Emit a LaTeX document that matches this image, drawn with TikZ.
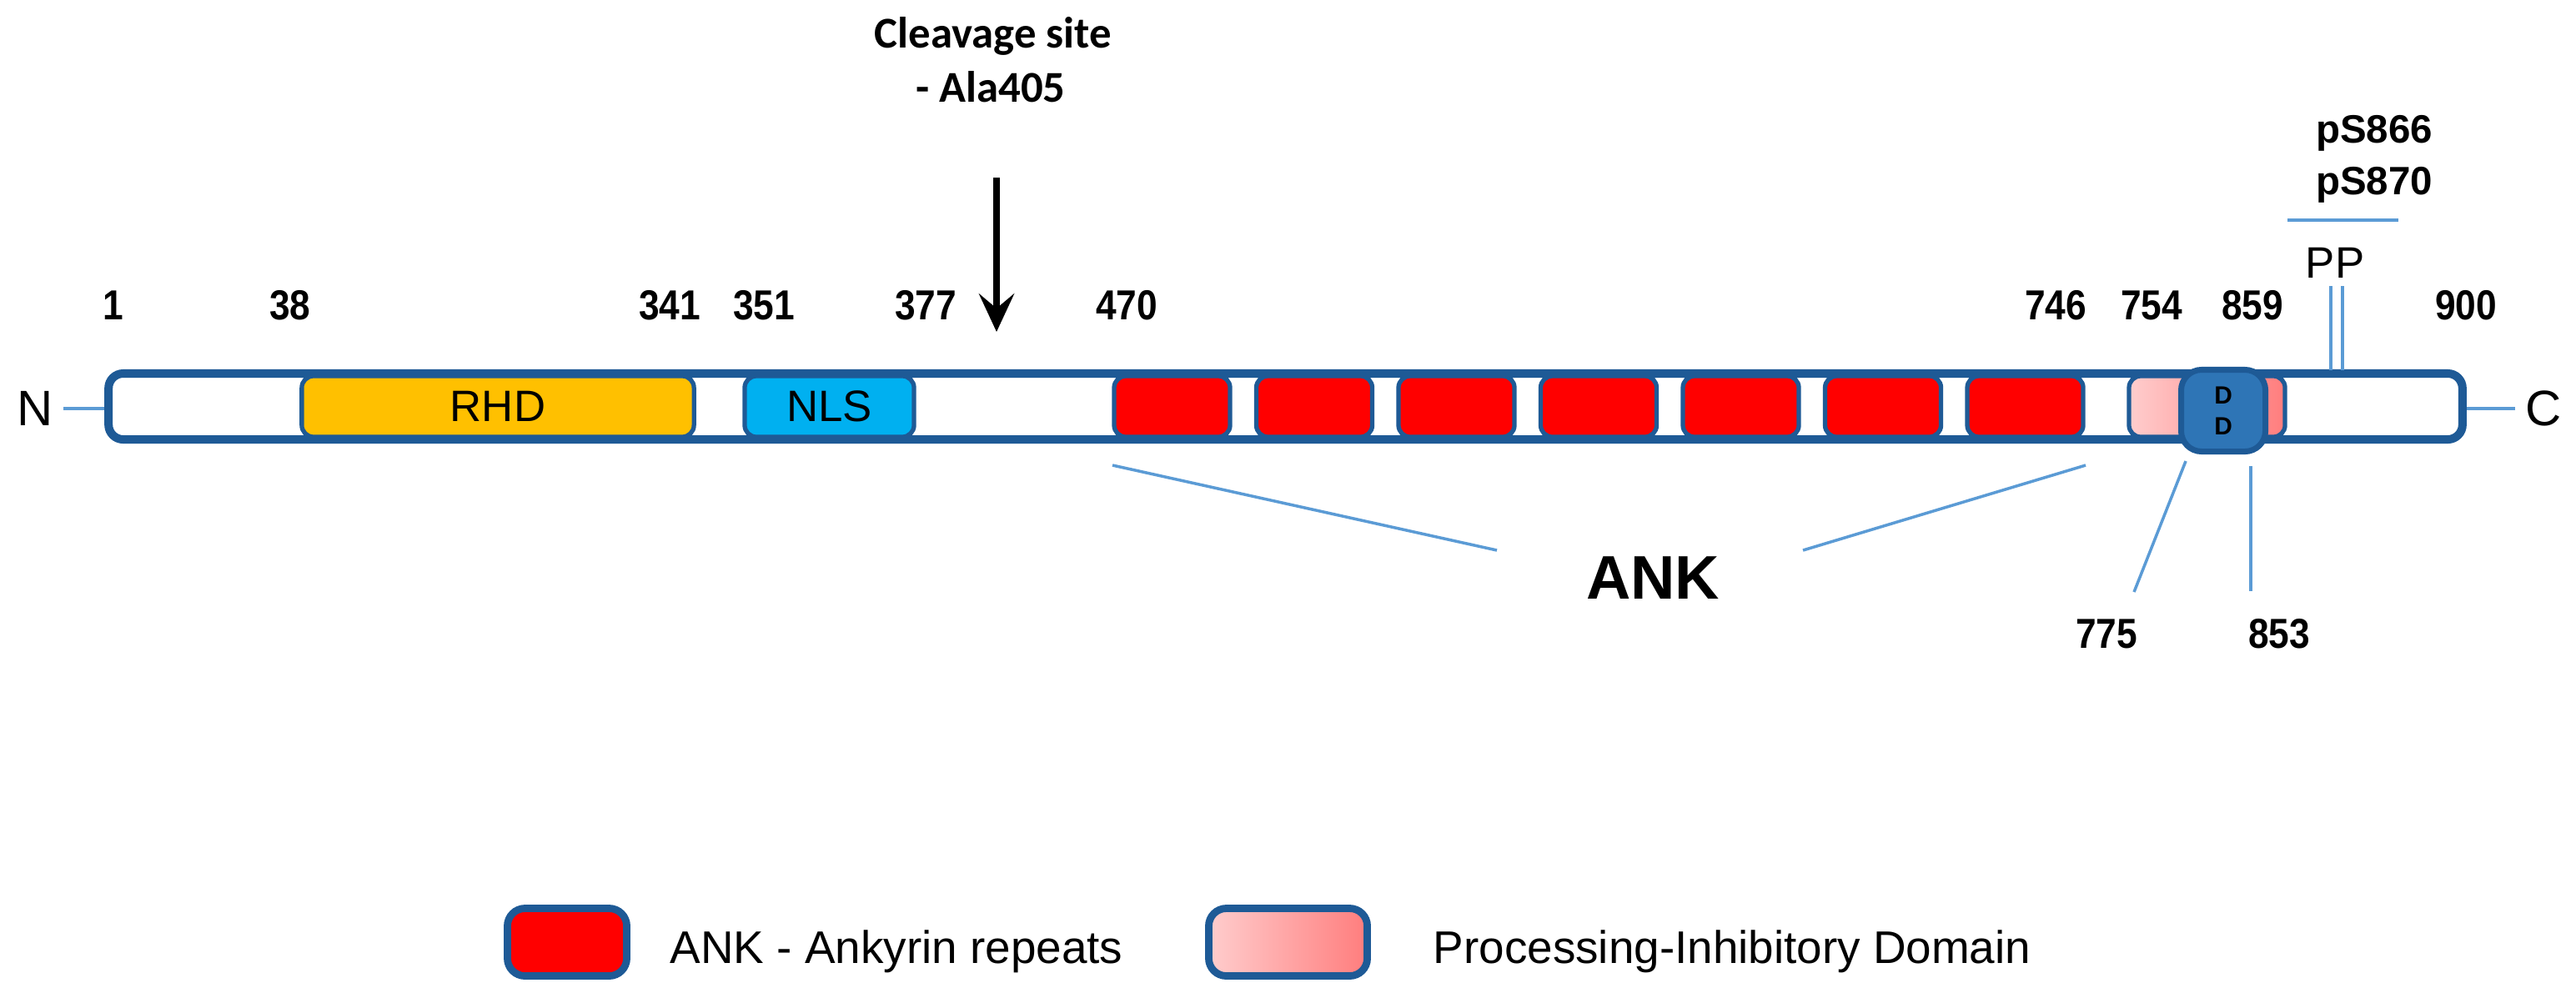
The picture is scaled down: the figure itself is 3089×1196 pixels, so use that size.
\documentclass[tikz,border=0pt]{standalone}
\usepackage{fontspec}
\setmainfont{Liberation Sans}
\newfontfamily\numfont[FakeStretch=0.88]{Liberation Sans}
\newfontfamily\cleavefont{Carlito}
\usetikzlibrary{arrows.meta,positioning}
\definecolor{barblue}{RGB}{30,90,150}
\definecolor{ddblue}{RGB}{46,117,182}
\definecolor{linkblue}{RGB}{91,155,213}
\definecolor{rhdgold}{RGB}{255,192,0}
\definecolor{nlscyan}{RGB}{0,176,240}
\definecolor{ankred}{RGB}{255,0,0}
\definecolor{pidlight}{RGB}{255,205,205}
\definecolor{piddark}{RGB}{255,125,125}
\tikzset{
  dom/.style={draw=barblue,line width=1.5pt,rounded corners=4pt,minimum height=0.73cm,inner sep=0pt},
  numlab/.style={font=\numfont\bfseries\fontsize{14.3}{16}\selectfont,anchor=base,inner sep=0pt},
  phos/.style={font=\bfseries\fontsize{13.5}{16}\selectfont,anchor=base,inner sep=0pt},
  cleave/.style={font=\cleavefont\bfseries\fontsize{15}{18}\selectfont,anchor=base,inner sep=0pt},
  link/.style={draw=linkblue,line width=1pt},
  legbox/.style={draw=barblue,line width=2.5pt,rounded corners=6pt,minimum height=0.81cm},
  legtext/.style={font=\fontsize{15.6}{19}\selectfont,anchor=base west,inner sep=0pt}
}
\begin{document}
\begin{tikzpicture}[x=0.01cm,y=-0.01cm]
\useasboundingbox (0,0) rectangle (3089,1196);
% protein bar
\node[draw=barblue,fill=white,line width=2.85pt,rounded corners=5pt,minimum width=28.21cm,minimum height=0.79cm,inner sep=0pt] (bar) at (1541.5,487.5) {};
\node[dom,fill=rhdgold,minimum width=4.70cm,font=\fontsize{15}{18}\selectfont] (rhd) at (597,487.5) {RHD};
\node[dom,fill=nlscyan,minimum width=2.03cm,font=\fontsize{15}{18}\selectfont] (nls) at (994.5,487.5) {NLS};
\foreach \i in {1,...,7}
  \node[dom,fill=ankred,minimum width=1.39cm] (ank\i) at ({1405.5+(\i-1)*170.5},487.5) {};
\node[dom,left color=pidlight,right color=piddark,minimum width=1.87cm] (pid) at (2646.5,487.5) {};
\node[draw=barblue,fill=ddblue,line width=2pt,rounded corners=7pt,minimum width=1.01cm,minimum height=0.98cm,inner sep=0pt,align=center,font=\bfseries\fontsize{8.5}{10.5}\selectfont] (dd) at (2666,492.5) {D\\D};
% termini
\node[font=\fontsize{17}{20}\selectfont] (nterm) at (42,490) {N};
\node[font=\fontsize{17}{20}\selectfont] (cterm) at (3050,490) {C};
\draw[link] (nterm.east) -- (nterm.east -| bar.west);
\draw[link] (bar.east |- cterm.west) -- (cterm.west);
% residue numbers
\foreach \pos/\lab in {136/1,348/38,803/341,916/351,1110/377,1351/470,2465/746,2580/754,2701/859,2957/900}
  \node[numlab] (n\lab) at (\pos,383) {\lab};
% cleavage site
\node[cleave] (cleave1) at (1191,57) {Cleavage site};
\node[cleave] (cleave2) at (1188,122) {- Ala405};
\coordinate (cuttop) at (1195,213);
\coordinate (cutsite) at (1195,398);
\draw[line width=2.3pt,-{Stealth[length=13pt,width=12pt,inset=5pt]}] (cuttop) -- (cutsite);
% phosphorylation
\node[phos] (ps866) at (2847,171) {pS866};
\node[phos] (ps870) at (2847,233) {pS870};
\coordinate (ph1) at (2743,264);
\coordinate (ph2) at (2876,264);
\draw[link] (ph1) -- (ph2);
\node[font=\fontsize{15}{18}\selectfont,anchor=base,inner sep=0pt] (pp) at (2800,333) {PP};
\coordinate (pp1a) at (2795,343); \coordinate (pp1b) at (2795,444);
\coordinate (pp2a) at (2809,343); \coordinate (pp2b) at (2809,444);
\draw[link] (pp1a) -- (pp1b);
\draw[link] (pp2a) -- (pp2b);
% ANK label
\node[font=\bfseries\fontsize{21}{24}\selectfont,anchor=base,inner sep=0pt] (ank) at (1982,718) {ANK};
\coordinate (ankl1) at (1334,558); \coordinate (ankl2) at (1795,660);
\coordinate (ankr1) at (2501,558); \coordinate (ankr2) at (2162,660);
\draw[link] (ankl1) -- (ankl2);
\draw[link] (ankr1) -- (ankr2);
% DD limits
\node[numlab] (n775) at (2526,777) {775};
\node[numlab] (n853) at (2733,777) {853};
\coordinate (dd1a) at (2621,553); \coordinate (dd1b) at (2559,710);
\coordinate (dd2a) at (2699,559); \coordinate (dd2b) at (2699,709);
\draw[link] (dd1a) -- (dd1b);
\draw[link] (dd2a) -- (dd2b);
% legend
\node[legbox,fill=ankred,minimum width=1.43cm] (legank) at (680,1130) {};
\node[legtext] (legankt) at (803,1155) {ANK - Ankyrin repeats};
\node[legbox,left color=pidlight,right color=piddark,minimum width=1.90cm] (legpid) at (1544.5,1130) {};
\node[legtext] (legpidt) at (1718,1155) {Processing-Inhibitory Domain};
\end{tikzpicture}
\end{document}
